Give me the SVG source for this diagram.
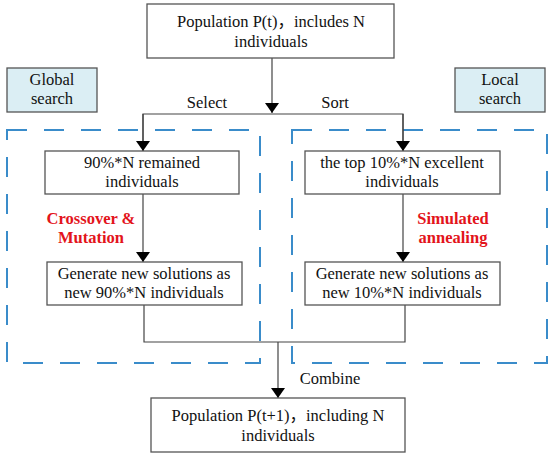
<svg xmlns="http://www.w3.org/2000/svg" width="550" height="457" viewBox="0 0 550 457">
<style>
text{font-family:"Liberation Serif","Noto Sans CJK SC",serif;font-size:16.5px;fill:#111;text-anchor:middle}
.box{fill:#fff;stroke:#555;stroke-width:1.3}
.tag{fill:#dbeef4;stroke:#555;stroke-width:1.3}
.red{fill:#e3141b;font-weight:bold}
.dash{fill:none;stroke:#3a8cca;stroke-width:2;stroke-dasharray:20 17}
.line{fill:none;stroke:#444;stroke-width:1.2}
</style>
<defs>
<marker id="arr" viewBox="0 0 10 14" refX="10" refY="7" markerWidth="10" markerHeight="14" markerUnits="userSpaceOnUse" orient="auto">
<path d="M0,0 L10,7 L0,14 Z" fill="#000"/>
</marker>
</defs>
<g id="regions">
<rect class="dash" x="7" y="130" width="253" height="233"/>
<rect class="dash" x="292" y="130" width="255" height="233"/>
</g>
<g id="connectors">
<line class="line" x1="272" y1="58" x2="272" y2="113" marker-end="url(#arr)"/>
<polyline class="line" points="143,151 143,114 403,114 403,151"/>
<line class="line" x1="143" y1="114" x2="143" y2="151" marker-end="url(#arr)"/>
<line class="line" x1="403" y1="114" x2="403" y2="151" marker-end="url(#arr)"/>
<line class="line" x1="143" y1="194" x2="143" y2="262" marker-end="url(#arr)"/>
<line class="line" x1="403" y1="194" x2="403" y2="262" marker-end="url(#arr)"/>
<polyline class="line" points="144,305 144,342 405,342 405,305"/>
<line class="line" x1="278" y1="342" x2="278" y2="398" marker-end="url(#arr)"/>
<text x="207" y="108">Select</text>
<text x="335" y="108">Sort</text>
<text x="330" y="384">Combine</text>
<text class="red" x="91" y="224">Crossover &amp;</text>
<text class="red" x="91" y="243">Mutation</text>
<text class="red" x="453" y="224">Simulated</text>
<text class="red" x="453" y="243">annealing</text>
</g>
<g id="top">
<rect class="box" x="147" y="4" width="247" height="54"/>
<text x="271" y="27">Population P(t)，includes N</text>
<text x="271" y="47">individuals</text>
</g>
<g id="global">
<rect class="tag" x="7" y="68" width="90" height="44"/>
<text x="52" y="85">Global</text>
<text x="52" y="104">search</text>
</g>
<g id="local">
<rect class="tag" x="455" y="68" width="90" height="44"/>
<text x="500" y="85">Local</text>
<text x="500" y="104">search</text>
</g>
<g id="remained">
<rect class="box" x="45" y="151" width="194" height="43"/>
<text x="142" y="168">90%*N remained</text>
<text x="142" y="187">individuals</text>
</g>
<g id="excellent">
<rect class="box" x="305" y="151" width="195" height="43"/>
<text x="402" y="168">the top 10%*N excellent</text>
<text x="402" y="187">individuals</text>
</g>
<g id="gen90">
<rect class="box" x="47" y="262" width="195" height="43"/>
<text x="144" y="279">Generate new solutions as</text>
<text x="144" y="298">new 90%*N individuals</text>
</g>
<g id="gen10">
<rect class="box" x="305" y="262" width="195" height="43"/>
<text x="402" y="279">Generate new solutions as</text>
<text x="402" y="298">new 10%*N individuals</text>
</g>
<g id="bottom">
<rect class="box" x="151" y="398" width="254" height="54"/>
<text x="278" y="421">Population P(t+1)，including N</text>
<text x="278" y="441">individuals</text>
</g>
</svg>
